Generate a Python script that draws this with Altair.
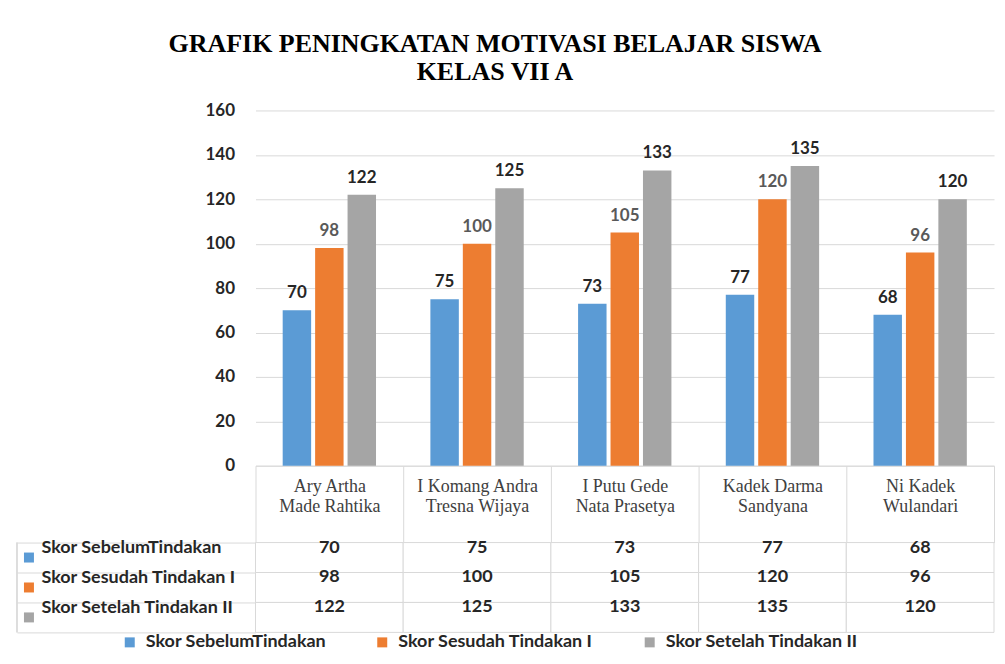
import altair as alt
import pandas as pd

categories = [
    "Ary Artha\nMade Rahtika",
    "I Komang Andra\nTresna Wijaya",
    "I Putu Gede\nNata Prasetya",
    "Kadek Darma\nSandyana",
    "Ni Kadek\nWulandari",
]
series = ["Skor SebelumTindakan", "Skor Sesudah Tindakan I", "Skor Setelah Tindakan II"]
sebelum = [70, 75, 73, 77, 68]
sesudah = [98, 100, 105, 120, 96]
setelah = [122, 125, 133, 135, 120]
colors = ["#5B9BD5", "#ED7D31", "#A5A5A5"]
label_colors = ["#262626", "#595959", "#262626"]

rows = []
for s, vals, lc in zip(series, [sebelum, sesudah, setelah], label_colors):
    for c, v in zip(categories, vals):
        rows.append({"Siswa": c, "Seri": s, "Nilai": v, "LabelColor": lc})
df = pd.DataFrame(rows)
sdf = pd.DataFrame({"Seri": series})

SANS = "Lato"
SERIF = "Liberation Serif"
GRID = "#d9d9d9"
TXT = "#262626"
W = 740

xscale = alt.Scale(domain=categories, paddingInner=0, paddingOuter=0)
colscale = alt.Scale(domain=series, range=colors)

base = alt.Chart(df)

x_top = alt.X(
    "Siswa:N", sort=categories, scale=xscale,
    axis=alt.Axis(
        title=None, labelExpr="split(datum.label, '\\n')", labelFont=SERIF,
        labelFontSize=18, labelFontWeight="normal", labelColor="#404040",
        labelAngle=0, tickBand="extent", tickSize=77, tickColor=GRID,
        domainColor=GRID, labelPadding=-65, labelBaseline="top",
        labelLineHeight=20, labelLimit=200,
    ),
)
xoff = alt.XOffset("Seri:N", sort=series,
                   scale=alt.Scale(domain=series, paddingInner=0.123, paddingOuter=0.838))
y_top = alt.Y(
    "Nilai:Q", scale=alt.Scale(domain=[0, 160]),
    axis=alt.Axis(
        values=[0, 20, 40, 60, 80, 100, 120, 140, 160], title=None, grid=True,
        gridColor=GRID, domain=False, ticks=False, labelPadding=21,
        labelFont=SANS, labelFontSize=17, labelFontWeight="bold", labelColor=TXT,
    ),
)

bars = base.mark_bar().encode(
    x=x_top, xOffset=xoff, y=y_top,
    color=alt.Color(
        "Seri:N", sort=series, scale=colscale,
        legend=alt.Legend(
            title=None, orient="none", direction="horizontal", legendX=-135,
            legendY=524, symbolType="square", symbolSize=100, symbolStrokeWidth=0,
            labelFont=SANS, labelFontSize=18, labelFontWeight="bold",
            labelColor=TXT, columnPadding=47, labelOffset=7, labelLimit=300,
        ),
    ),
)
labels = base.mark_text(font=SANS, fontSize=17, fontWeight="bold", dy=-12,
                        baseline="alphabetic").encode(
    x=alt.X("Siswa:N", sort=categories, scale=xscale),
    xOffset=xoff,
    y=alt.Y("Nilai:Q"),
    text="Nilai:Q",
    color=alt.Color("LabelColor:N", scale=None),
)
top = alt.layer(bars, labels).properties(width=W, height=356)

x_bot = alt.X("Siswa:N", sort=categories, scale=xscale, axis=None)
y_bot = alt.Y(
    "Seri:N", sort=series,
    scale=alt.Scale(domain=series, paddingInner=0, paddingOuter=0),
    axis=alt.Axis(
        title=None, tickBand="extent", tickSize=239, tickColor=GRID, domain=False,
        labelAlign="left", labelPadding=-24, labelOffset=-10, labelFont=SANS,
        labelFontSize=18, labelFontWeight="bold", labelColor=TXT, labelLimit=300,
    ),
)
cells = base.mark_rect(fill="white", stroke=GRID, strokeWidth=1).encode(x=x_bot, y=y_bot)
vals = base.mark_text(font=SANS, fontSize=18, fontWeight="bold", color=TXT, dy=-10).encode(
    x=x_bot, y=alt.Y("Seri:N", sort=series), text="Nilai:Q")
squares = alt.Chart(sdf).mark_point(shape="square", filled=True, size=100, opacity=1).encode(
    x=alt.value(-227), y=alt.Y("Seri:N", sort=series),
    color=alt.Color("Seri:N", sort=series, scale=colscale, legend=None))
leftline = alt.Chart(sdf).mark_rule(color=GRID).encode(
    x=alt.value(-239), y=alt.value(0), y2=alt.value(90))
bottom = alt.layer(cells, vals, squares, leftline).properties(width=W, height=90)

chart = alt.vconcat(top, bottom, spacing=77, bounds="flush").properties(
    title=alt.TitleParams(
        text=["GRAFIK PENINGKATAN MOTIVASI BELAJAR SISWA", "KELAS VII A"],
        font=SERIF, fontSize=26, fontWeight="bold", color="#000000",
        anchor="middle", frame="group", dx=-130, lineHeight=28, offset=17,
    ),
    padding={"left": 8, "top": 22, "right": 2, "bottom": 2},
).resolve_scale(x="shared", color="shared").configure_view(stroke=None)

chart.save("out.html", embed_options={"renderer": "svg", "actions": False})
